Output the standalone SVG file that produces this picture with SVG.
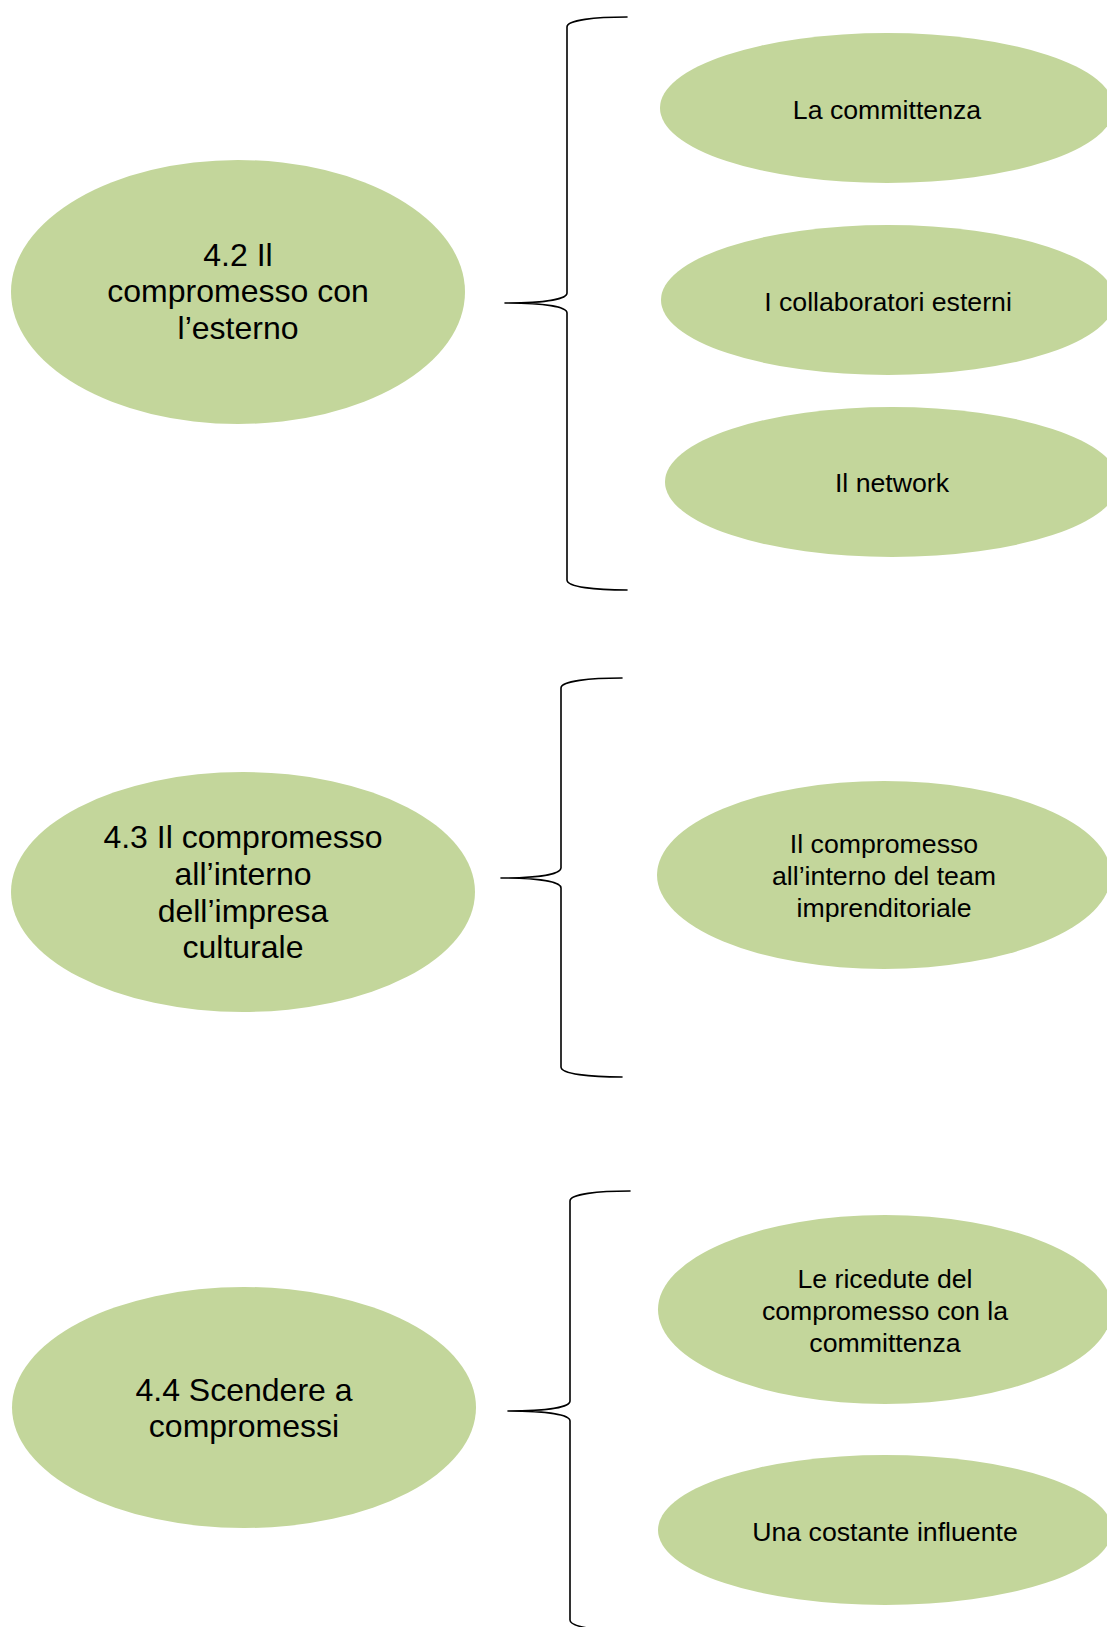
<svg xmlns="http://www.w3.org/2000/svg" width="1107" height="1627" viewBox="0 0 1107 1627">
<style>
.node ellipse{fill:#C3D69B;stroke:none}
.big{font-family:"Liberation Sans",Arial,sans-serif;font-size:32px;fill:#000;text-anchor:middle}
.small{font-family:"Liberation Sans",Arial,sans-serif;font-size:26.7px;fill:#000;text-anchor:middle}
.brace{fill:none;stroke:#000;stroke-width:1.6;stroke-linejoin:round;stroke-linecap:round}
</style>
<rect width="1107" height="1627" fill="#fff"/>
<g id="connectors">
<path class="brace" d="M627 17 C595 17 567 20 567 27 L567 293 C567 299 545 303 505 303 C545 303 567 307 567 313 L567 580 C567 587 595 590 627 590"/>
<path class="brace" d="M622 678 C590 678 561 681 561 688 L561 868 C561 874 540 878 501 878 C540 878 561 882 561 888 L561 1067 C561 1074 590 1077 622 1077"/>
<path class="brace" d="M630 1191 C598 1191 570 1194 570 1201 L570 1401 C570 1407 548 1411 508 1411 C548 1411 570 1415 570 1421 L570 1620 C570 1627 598 1631 630 1631"/>
</g>
<g id="n42" class="node">
<ellipse cx="238" cy="292" rx="227" ry="132"/>
<text class="big" x="238" y="266">4.2 Il</text>
<text class="big" x="238" y="302">compromesso con</text>
<text class="big" x="238" y="339">l’esterno</text>
</g>
<g id="n43" class="node">
<ellipse cx="243" cy="892" rx="232" ry="120"/>
<text class="big" x="243" y="848">4.3 Il compromesso</text>
<text class="big" x="243" y="885">all’interno</text>
<text class="big" x="243" y="922">dell’impresa</text>
<text class="big" x="243" y="958">culturale</text>
</g>
<g id="n44" class="node">
<ellipse cx="244" cy="1407.5" rx="232" ry="120.5"/>
<text class="big" x="244" y="1401">4.4 Scendere a</text>
<text class="big" x="244" y="1437">compromessi</text>
</g>
<g id="r1" class="node">
<ellipse cx="887" cy="108" rx="227" ry="75"/>
<text class="small" x="887" y="119">La committenza</text>
</g>
<g id="r2" class="node">
<ellipse cx="888" cy="300" rx="227" ry="75"/>
<text class="small" x="888" y="311">I collaboratori esterni</text>
</g>
<g id="r3" class="node">
<ellipse cx="892" cy="482" rx="227" ry="75"/>
<text class="small" x="892" y="492">Il network</text>
</g>
<g id="r4" class="node">
<ellipse cx="884" cy="875" rx="227" ry="94"/>
<text class="small" x="884" y="853">Il compromesso</text>
<text class="small" x="884" y="885">all’interno del team</text>
<text class="small" x="884" y="917">imprenditoriale</text>
</g>
<g id="r5" class="node">
<ellipse cx="885" cy="1309.5" rx="227" ry="94.5"/>
<text class="small" x="885" y="1288">Le ricedute del</text>
<text class="small" x="885" y="1320">compromesso con la</text>
<text class="small" x="885" y="1352">committenza</text>
</g>
<g id="r6" class="node">
<ellipse cx="885" cy="1530" rx="227" ry="75"/>
<text class="small" x="885" y="1541">Una costante influente</text>
</g>
</svg>
